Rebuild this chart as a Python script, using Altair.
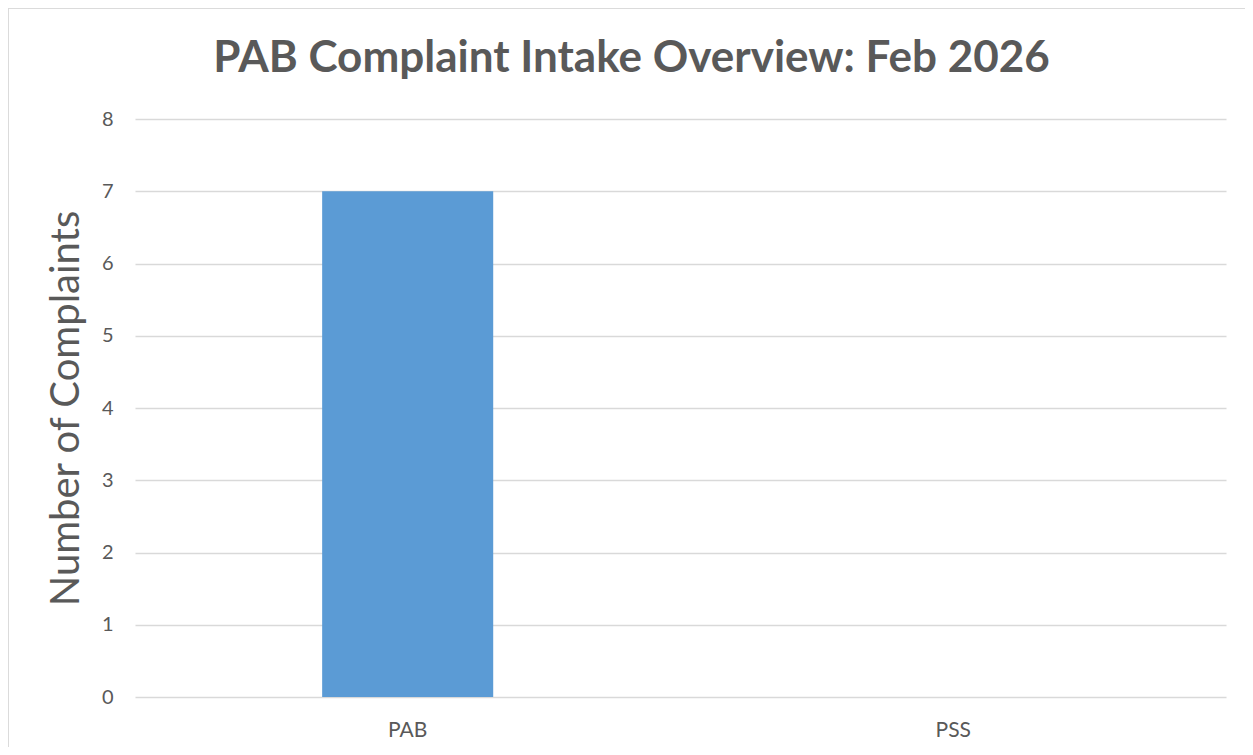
import altair as alt
import pandas as pd

categories = ["PAB", "PSS"]
complaints = [7, 0]
y_ticks = [0, 1, 2, 3, 4, 5, 6, 7, 8]

df = pd.DataFrame({"category": categories, "complaints": complaints})

TEXT = "#595959"
GRID = "#D9D9D9"
FONT = "Lato"

bars = alt.Chart(df).mark_bar(color="#5B9BD5").encode(
    x=alt.X(
        "category:N",
        sort=categories,
        scale=alt.Scale(paddingInner=0.6865, paddingOuter=0.343),
        axis=alt.Axis(
            title=None, labelAngle=0, domain=False, ticks=False,
            labelFont=FONT, labelFontSize=21, labelColor=TEXT, labelPadding=22,
        ),
    ),
    y=alt.Y(
        "complaints:Q",
        scale=alt.Scale(domain=[0, 8], nice=False),
        axis=alt.Axis(
            values=y_ticks, title="Number of Complaints", domain=False, ticks=False,
            grid=True, gridColor=GRID, gridWidth=1.5,
            labelFont=FONT, labelFontSize=20, labelColor=TEXT, labelPadding=22,
            titleFont=FONT, titleFontSize=40, titleFontWeight="normal", titleColor=TEXT,
            titleAngle=-90, titleX=-69, titleY=289, titleAlign="center", titleBaseline="middle",
        ),
    ),
)

border = alt.Chart(df).mark_rect(
    fill=None, stroke=GRID, strokeWidth=1.5, clip=False
).encode(
    x=alt.value(-127), x2=alt.value(1130), y=alt.value(-111), y2=alt.value(700)
)

chart = alt.layer(border, bars).properties(
    width=1091,
    height=578,
    autosize=alt.AutoSizeParams(type="none"),
    padding={"left": 127, "top": 111, "right": 19, "bottom": 50},
    title=alt.TitleParams(
        "PAB Complaint Intake Overview: Feb 2026",
        font=FONT, fontSize=44, fontWeight="bold", color=TEXT,
        anchor="middle", frame="group", dx=-49, baseline="alphabetic", offset=0, dy=109,
    ),
).configure(background="white", view=alt.ViewConfig(stroke=None))

chart.save("out.html", embed_options={"renderer": "svg", "actions": False})
